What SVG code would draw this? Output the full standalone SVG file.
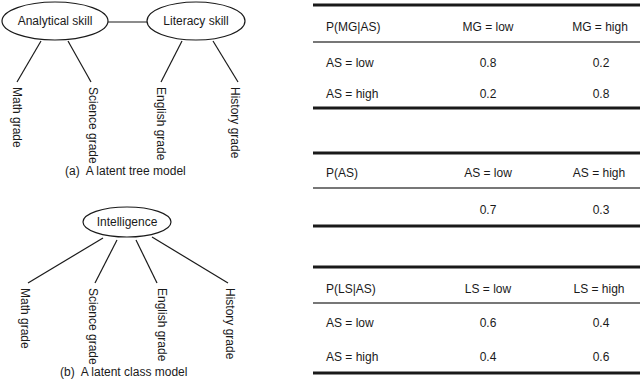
<svg xmlns="http://www.w3.org/2000/svg" width="640" height="381" viewBox="0 0 640 381">
<style>
text{font-family:"Liberation Sans",Arial,sans-serif;font-size:12px;fill:#1a1a1a}
.m{text-anchor:middle}
.node{fill:#fff;stroke:#1a1a1a;stroke-width:1.2}
.edge{stroke:#1a1a1a;stroke-width:1.2;fill:none}
.thick{stroke:#1a1a1a;stroke-width:3}
.thin{stroke:#777;stroke-width:1.8}
</style>
<rect width="640" height="381" fill="#fff"/>
<g id="connectors">
<line class="edge" x1="108" y1="22" x2="147" y2="22"/>
<line class="edge" x1="41" y1="41" x2="17" y2="82"/>
<line class="edge" x1="68" y1="41" x2="91" y2="82"/>
<line class="edge" x1="182" y1="41" x2="161" y2="82"/>
<line class="edge" x1="213" y1="41" x2="238" y2="82"/>
<line class="edge" x1="103" y1="238" x2="28" y2="283"/>
<line class="edge" x1="117" y1="240" x2="95" y2="283"/>
<line class="edge" x1="136" y1="240" x2="157" y2="283"/>
<line class="edge" x1="152" y1="237" x2="228" y2="283"/>
</g>
<g id="analytical"><ellipse class="node" cx="55" cy="21" rx="53" ry="19"/><text class="m" x="55" y="25">Analytical skill</text></g>
<g id="literacy"><ellipse class="node" cx="196" cy="21" rx="49" ry="19"/><text class="m" x="196" y="25">Literacy skill</text></g>
<g id="a-math"><text transform="translate(13,87) rotate(90)">Math grade</text></g>
<g id="a-science"><text transform="translate(89,87) rotate(90)">Science grade</text></g>
<g id="a-english"><text transform="translate(157,87) rotate(90)">English grade</text></g>
<g id="a-history"><text transform="translate(231,87) rotate(90)">History grade</text></g>
<text x="65" y="175">(a)&#160; A latent tree model</text>
<g id="intelligence"><ellipse class="node" cx="127" cy="222" rx="44" ry="15"/><text class="m" x="127" y="226">Intelligence</text></g>
<g id="b-math"><text transform="translate(21,288) rotate(90)">Math grade</text></g>
<g id="b-science"><text transform="translate(89,288) rotate(90)">Science grade</text></g>
<g id="b-english"><text transform="translate(158,288) rotate(90)">English grade</text></g>
<g id="b-history"><text transform="translate(226,288) rotate(90)">History grade</text></g>
<text x="60" y="376">(b)&#160; A latent class model</text>
<g id="table-mg">
<line class="thick" x1="313" y1="5" x2="640" y2="5"/>
<text x="326" y="31">P(MG|AS)</text>
<text class="m" x="488" y="31">MG = low</text>
<text class="m" x="600" y="31">MG = high</text>
<line class="thin" x1="313" y1="42" x2="640" y2="42"/>
<text x="326" y="67">AS = low</text>
<text class="m" x="488" y="67">0.8</text>
<text class="m" x="601" y="67">0.2</text>
<text x="326" y="98">AS = high</text>
<text class="m" x="488" y="98">0.2</text>
<text class="m" x="601" y="98">0.8</text>
<line class="thick" x1="313" y1="108" x2="640" y2="108"/>
</g>
<g id="table-as">
<line class="thick" x1="313" y1="153" x2="640" y2="153"/>
<text x="326" y="177">P(AS)</text>
<text class="m" x="488" y="177">AS = low</text>
<text class="m" x="599" y="177">AS = high</text>
<line class="thin" x1="313" y1="188" x2="640" y2="188"/>
<text class="m" x="488" y="214">0.7</text>
<text class="m" x="601" y="214">0.3</text>
<line class="thick" x1="313" y1="226" x2="640" y2="226"/>
</g>
<g id="table-ls">
<line class="thick" x1="313" y1="267" x2="640" y2="267"/>
<text x="326" y="293">P(LS|AS)</text>
<text class="m" x="488" y="293">LS = low</text>
<text class="m" x="599" y="293">LS = high</text>
<line class="thin" x1="313" y1="303" x2="640" y2="303"/>
<text x="326" y="327">AS = low</text>
<text class="m" x="488" y="327">0.6</text>
<text class="m" x="601" y="327">0.4</text>
<text x="326" y="361">AS = high</text>
<text class="m" x="488" y="361">0.4</text>
<text class="m" x="601" y="361">0.6</text>
<line class="thick" x1="313" y1="373" x2="640" y2="373"/>
</g>
</svg>
